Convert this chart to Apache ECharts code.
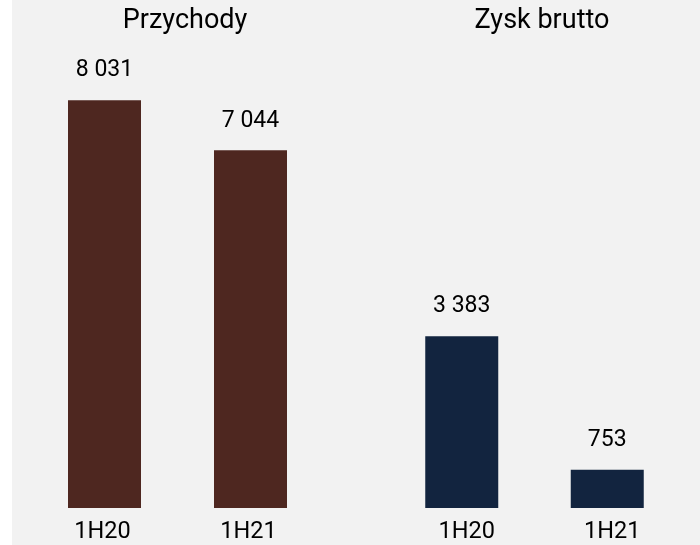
<!DOCTYPE html>
<html><head><meta charset="utf-8">
<script src="https://cdn.jsdelivr.net/npm/echarts@6/dist/echarts.min.js"></script>
<style>html,body{margin:0;padding:0;background:#fff}#c{width:700px;height:545px}</style>
</head><body><div id="c"></div>
<script>
const groupTitles = ['Przychody', 'Zysk brutto'];
const categories = ['1H20', '1H21'];
const revenue = [8031, 7044];
const grossProfit = [3383, 753];
const colors = ['#4e2720', '#12243f'];

const fmt = v => String(v).replace(/\B(?=(\d{3})+(?!\d))/g, ' ');
const font = 'Roboto, "Liberation Sans", sans-serif';
const chart = echarts.init(document.getElementById('c'));
const grids = [{left: 31.5, width: 292, top: 51, bottom: 37}, {left: 389, width: 291, top: 51, bottom: 37}];
const datasets = [revenue, grossProfit];
const labelPad = [[0, 4, 0, 0], [0, 0, 0, 10]];
chart.setOption({
  animation: false,
  backgroundColor: '#ffffff',
  graphic: [{type: 'rect', z: -10, shape: {x: 12, y: 0, width: 688, height: 545}, style: {fill: '#f2f2f2'}}],
  title: [
    {text: groupTitles[0], left: 180, top: 3, textAlign: 'center', textStyle: {fontFamily: font, fontSize: 27, fontWeight: 'normal', color: '#000'}},
    {text: groupTitles[1], left: 537, top: 3, textAlign: 'center', textStyle: {fontFamily: font, fontSize: 27, fontWeight: 'normal', color: '#000'}}
  ],
  grid: grids,
  xAxis: [0, 1].map(i => ({
    type: 'category', gridIndex: i, data: categories,
    axisLine: {show: false}, axisTick: {show: false},
    axisLabel: {fontFamily: font, fontSize: 23.5, color: '#000', margin: 12, padding: labelPad[i]}
  })),
  yAxis: [0, 1].map(i => ({type: 'value', gridIndex: i, min: 0, max: 9000, show: false, splitLine: {show: false}})),
  series: [0, 1].map(i => ({
    type: 'bar', xAxisIndex: i, yAxisIndex: i, data: datasets[i], barWidth: 73,
    itemStyle: {color: colors[i]},
    label: {show: true, position: 'top', distance: 18, fontFamily: font, fontSize: 23, color: '#000', formatter: p => fmt(p.value)}
  }))
});
</script></body></html>
